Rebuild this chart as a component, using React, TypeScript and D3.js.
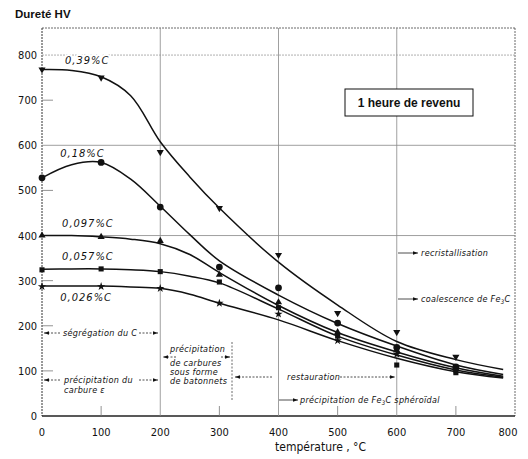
import React from "react";
import * as d3 from "d3";

// ---- data ----
const markerTemps = [0, 100, 200, 300, 400, 500, 600, 700];
const m039 = [768, 750, 585, 461, 357, 228, 186, 131];
const m018 = [528, 562, 463, 330, 284, 206, 152, 109];
const m0097 = [400, 397, 388, 313, 252, 186, 146, 105];
const m0057 = [324, 326, 320, 297, 240, 177, 113, 96];
const m0026 = [287, 287, 283, 250, 226, 167, 137, 102];

const curveTemps = [0, 50, 100, 150, 200, 250, 300, 400, 500, 600, 700, 780];
const c039 = [768, 766, 752, 710, 608, 530, 461, 341, 246, 165, 125, 103];
const c018 = [528, 557, 562, 525, 465, 402, 344, 268, 205, 155, 113, 92];
const c0097 = [400, 400, 397, 392, 382, 358, 318, 245, 185, 142, 107, 88];
const c0057 = [325, 326, 326, 324, 320, 310, 295, 237, 177, 135, 102, 86];
const c0026 = [288, 288, 288, 286, 283, 270, 250, 213, 167, 128, 98, 84];

const seriesLabels = ["0,39%C", "0,18%C", "0,097%C", "0,057%C", "0,026%C"];
const labelAnchors = [
  [39, 780],
  [31, 574],
  [34, 418],
  [34, 345],
  [31, 254],
];
const markerKinds = ["triDown", "circle", "triUp", "square", "star"];

const xTicks = [0, 100, 200, 300, 400, 500, 600, 700, 800];
const yTicks = [0, 100, 200, 300, 400, 500, 600, 700, 800];

const FONT = "'DejaVu Sans Condensed', 'DejaVu Sans', sans-serif";

export default function App() {
  const x = d3.scaleLinear().domain([0, 800]).range([42, 515]);
  const y = d3.scaleLinear().domain([0, 860]).range([416, 28]);

  const curves = [c039, c018, c0097, c0057, c0026];
  const markers = [m039, m018, m0097, m0057, m0026];

  const line = d3
    .line<[number, number]>()
    .x((d) => x(d[0]))
    .y((d) => y(d[1]))
    .curve(d3.curveCatmullRom.alpha(0.5));

  const sym = (kind: string) => {
    if (kind === "triDown" || kind === "triUp")
      return d3.symbol().type(d3.symbolTriangle).size(22)();
    if (kind === "circle") return d3.symbol().type(d3.symbolCircle).size(36)();
    if (kind === "square") return d3.symbol().type(d3.symbolSquare).size(26)();
    return d3.symbol().type(d3.symbolStar).size(22)();
  };

  const arrowLine = (
    x1: number,
    x2: number,
    yy: number,
    dashed = true,
    key = ""
  ) => (
    <line
      key={key}
      x1={x1}
      x2={x2}
      y1={yy}
      y2={yy}
      stroke="#222"
      strokeWidth={0.8}
      strokeDasharray={dashed ? "2,1.5" : undefined}
      markerEnd="url(#arr)"
    />
  );

  const ann = {
    fontFamily: FONT,
    fontStyle: "italic" as const,
    fontSize: 9,
    letterSpacing: 0.3,
    fill: "#111",
  };

  return (
    <svg
      width={528}
      height={459}
      style={{ position: "absolute", left: 0, top: 0, background: "#fff" }}
    >
      <defs>
        <marker
          id="arr"
          viewBox="0 0 6 6"
          refX={6}
          refY={3}
          markerWidth={5}
          markerHeight={5}
          orient="auto"
          markerUnits="userSpaceOnUse"
        >
          <path d="M0,0.8 L6,3 L0,5.2 Z" fill="#111" />
        </marker>
      </defs>

      {/* title */}
      <text
        x={15}
        y={18}
        fontFamily="'Liberation Sans', Arial, sans-serif"
        fontWeight="bold"
        fontSize={11.5}
        fill="#111"
      >
        Dureté HV
      </text>

      {/* frame */}
      <line x1={x(0)} x2={x(800)} y1={y(860)} y2={y(860)} stroke="#444" strokeWidth={0.8} strokeDasharray="2,1" />
      <line x1={x(800)} x2={x(800)} y1={y(860)} y2={y(0)} stroke="#444" strokeWidth={0.8} strokeDasharray="2,1" />
      <line x1={x(0)} x2={x(0)} y1={y(860)} y2={y(0)} stroke="#333" strokeWidth={1} strokeDasharray="2,1" />
      <line x1={x(0)} x2={x(800)} y1={y(0)} y2={y(0)} stroke="#222" strokeWidth={1.3} />

      {/* grid */}
      {[200, 400, 600].map((t) => (
        <line key={"vg" + t} x1={x(t)} x2={x(t)} y1={y(860)} y2={y(0)} stroke="#888" strokeWidth={0.8} />
      ))}
      <line x1={x(0)} x2={x(800)} y1={y(800)} y2={y(800)} stroke="#999" strokeWidth={0.8} strokeDasharray="2,1" />
      {[600, 400].map((v) => (
        <line key={"hg" + v} x1={x(0)} x2={x(800)} y1={y(v)} y2={y(v)} stroke="#888" strokeWidth={0.8} />
      ))}
      {[700, 500, 300, 200, 100].map((v) => (
        <line key={"yt" + v} x1={x(0)} x2={x(0) + 11} y1={y(v)} y2={y(v)} stroke="#777" strokeWidth={0.8} />
      ))}
      {[100, 300, 500, 700].map((t) => (
        <line key={"xt" + t} x1={x(t)} x2={x(t)} y1={y(0)} y2={y(0) - 10} stroke="#777" strokeWidth={0.8} />
      ))}

      {/* tick labels */}
      {yTicks.map((v) => (
        <text key={"yl" + v} x={37} y={y(v) + 4} textAnchor="end" fontFamily={FONT} fontSize={11} fill="#111">
          {v}
        </text>
      ))}
      {xTicks.map((t) => (
        <text key={"xl" + t} x={x(t) - (t === 800 ? 7 : 0)} y={436} textAnchor="middle" fontFamily={FONT} fontSize={11} fill="#111">
          {t}
        </text>
      ))}
      <text x={275} y={451} fontFamily={FONT} fontSize={12} fill="#111">
        température , °C
      </text>

      {/* series labels with halos */}
      {seriesLabels.map((s, i) => (
        <text
          key={"sl" + i}
          x={x(labelAnchors[i][0])}
          y={y(labelAnchors[i][1])}
          fontFamily={FONT}
          fontStyle="italic"
          fontSize={11}
          letterSpacing={1}
          fill="#111"
          stroke="#fff"
          strokeWidth={4}
          paintOrder="stroke"
        >
          {s}
        </text>
      ))}

      {/* curves */}
      {curves.map((c, i) => (
        <path
          key={"cv" + i}
          d={line(curveTemps.map((t, j) => [t, c[j]] as [number, number])) || ""}
          fill="none"
          stroke="#111"
          strokeWidth={1.5}
        />
      ))}

      {/* markers */}
      {markers.map((m, i) =>
        m.map((v, j) => (
          <path
            key={"mk" + i + "-" + j}
            d={sym(markerKinds[i]) || ""}
            transform={`translate(${x(markerTemps[j])},${y(v)})${markerKinds[i] === "triDown" ? " rotate(180)" : ""}`}
            fill="#111"
          />
        ))
      )}

      {/* annotation box */}
      <rect x={345} y={89} width={128} height={27} fill="#fff" stroke="#111" strokeWidth={1} />
      <text
        x={409}
        y={107}
        textAnchor="middle"
        fontFamily="'Liberation Sans', Arial, sans-serif"
        fontWeight="bold"
        fontSize={12}
        fill="#111"
      >
        1 heure de revenu
      </text>

      {/* process annotations */}
      {arrowLine(60, 44, 333, true, "a1")}
      <text {...ann} x={63} y={336}>ségrégation du C</text>
      {arrowLine(139, 158, 333, true, "a2")}

      {arrowLine(60, 44, 380, true, "a3")}
      <text {...ann} x={64} y={383}>précipitation du</text>
      <text {...ann} x={64} y={393}>carbure  ε</text>
      {arrowLine(139, 158, 380, true, "a4")}

      <text {...ann} x={170} y={352}>précipitation</text>
      {arrowLine(176, 163, 357, true, "a5")}
      {arrowLine(221, 230, 357, true, "a6")}
      <text {...ann} x={170} y={366}>de carbures</text>
      <text {...ann} x={170} y={375}>sous forme</text>
      <text {...ann} x={170} y={384}>de batonnets</text>
      <line x1={232} x2={232} y1={342} y2={400} stroke="#444" strokeWidth={0.8} strokeDasharray="2,1.5" />

      {arrowLine(272, 235, 377, true, "a7")}
      <text {...ann} x={287} y={380}>restauration</text>
      {arrowLine(340, 395, 377, true, "a8")}

      {arrowLine(279, 298, 400, false, "a9")}
      <text {...ann} x={300} y={403}>
        précipitation de Fe<tspan fontSize={6} dy={2}>3</tspan>
        <tspan dy={-2}>C  sphéroïdal</tspan>
      </text>

      {arrowLine(398, 418, 253, false, "a10")}
      <text {...ann} x={421} y={256}>recristallisation</text>
      {arrowLine(398, 418, 299, false, "a11")}
      <text {...ann} x={421} y={302}>
        coalescence de Fe<tspan fontSize={6} dy={2}>3</tspan>
        <tspan dy={-2}>C</tspan>
      </text>
    </svg>
  );
}
